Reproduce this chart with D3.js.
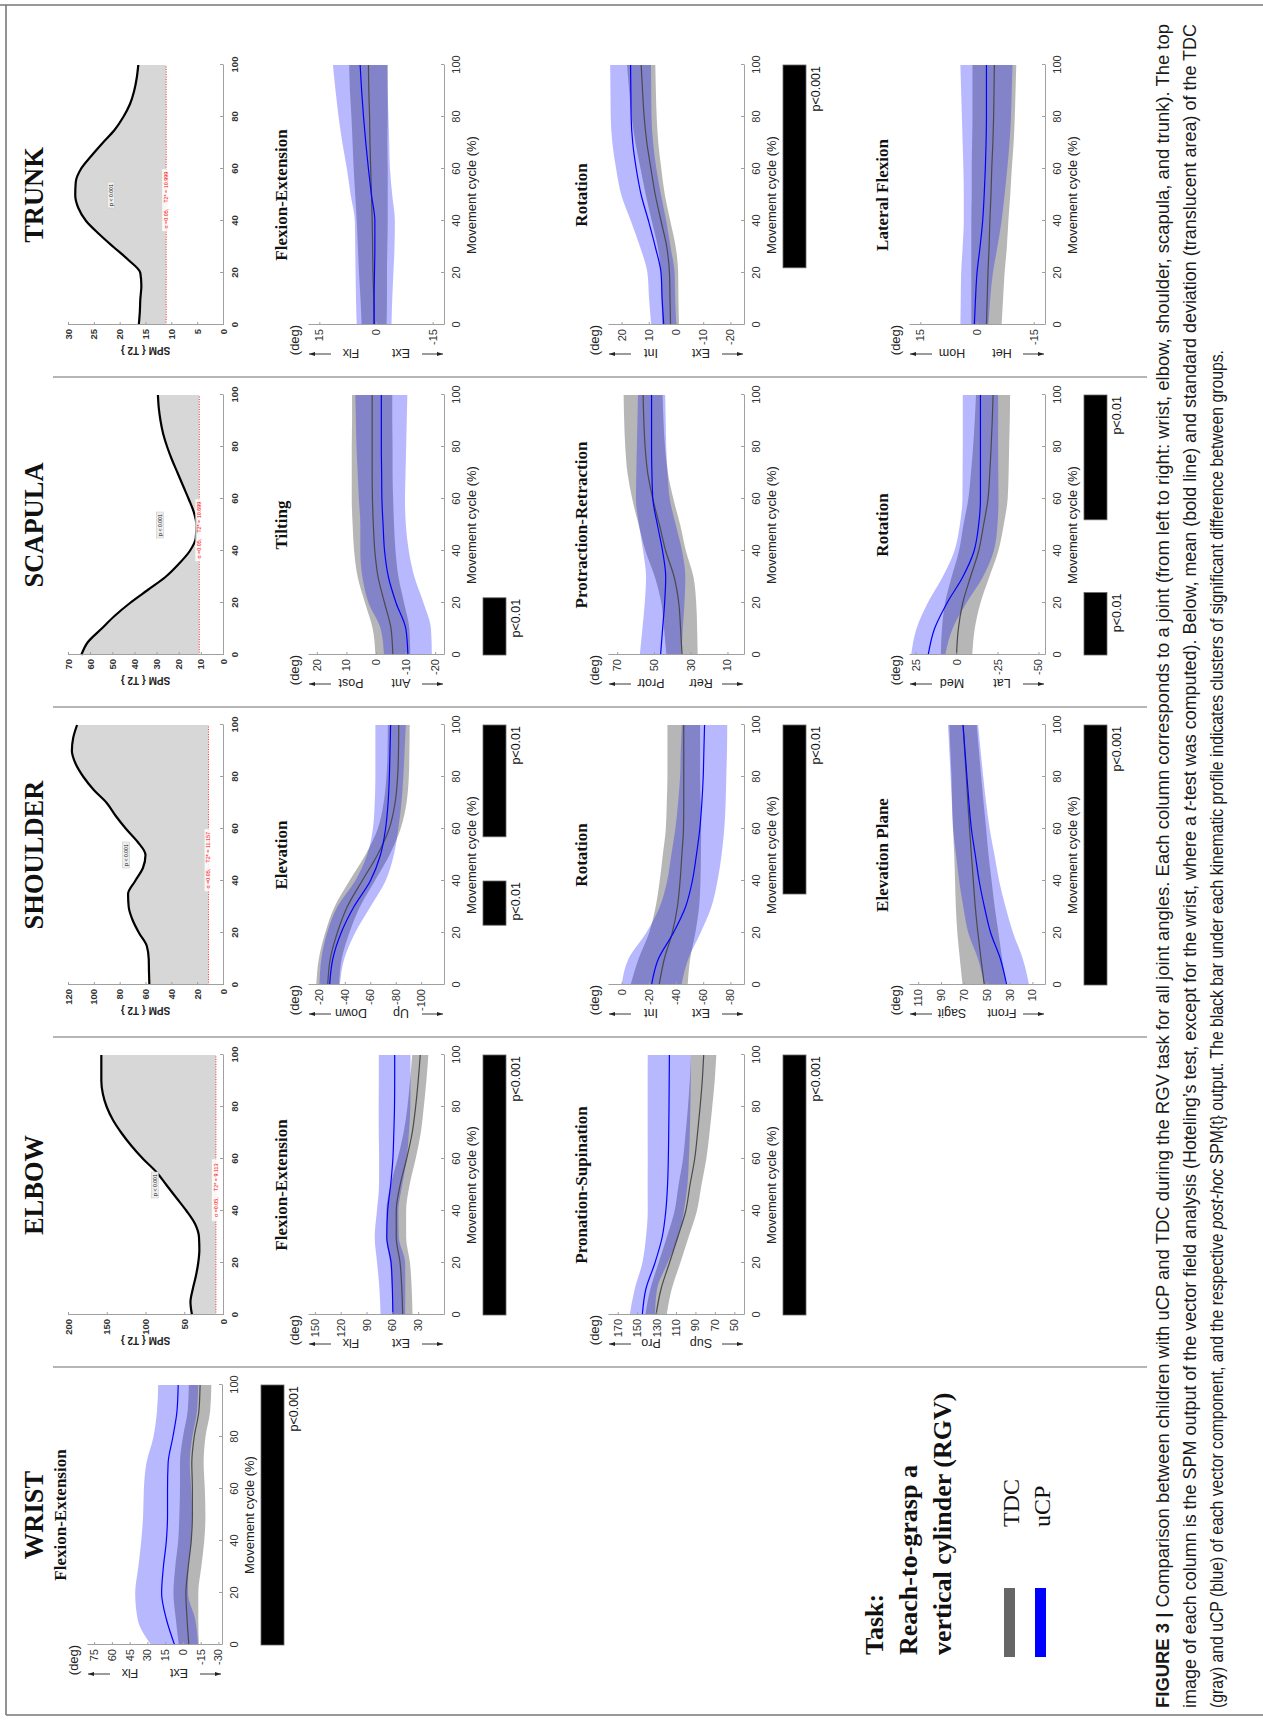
<!DOCTYPE html>
<html>
<head>
<meta charset="utf-8">
<script src="https://cdn.jsdelivr.net/npm/d3@7"></script>
<style>
  html, body { margin: 0; padding: 0; background: #fff; }
  svg { display: block; }
</style>
</head>
<body>
<svg id="fig" width="1263" height="1725"></svg>
<script>
// ---------- sampling grids ----------
const cyclePct = [0, 10, 20, 30, 40, 50, 60, 70, 80, 90, 100];
const spmPct = [0, 5, 10, 15, 20, 25, 30, 35, 40, 45, 50, 55, 60, 65, 70, 75, 80, 85, 90, 95, 100];
const xTicks = [0, 20, 40, 60, 80, 100];

const jointNames = ["WRIST", "ELBOW", "SHOULDER", "SCAPULA", "TRUNK"];

// ---------- SPM{T2} (Hotelling) curves ----------
const elbowSpm    = [40, 42, 39, 35, 32, 30.5, 31, 36, 47, 60, 73, 86, 103, 118, 131, 142, 150, 155, 157, 157, 157];
const shoulderSpm = [57, 57.3, 57.5, 59, 65, 70, 73, 73.5, 68, 62, 60, 66, 75, 83, 90, 100, 108, 114, 117, 116, 113];
const scapulaSpm  = [64, 61, 55, 49, 42, 34, 26, 20, 15, 12.3, 12, 13.2, 15.5, 18, 20.5, 23, 25.2, 27, 28.2, 29, 29.4];
const trunkSpm    = [16.3, 16.1, 16, 15.8, 16, 18.3, 21.2, 24, 26.5, 28, 28.6, 28.5, 27.5, 25.5, 23.3, 21, 19.3, 18, 17.2, 16.7, 16.4];
const spmThreshold = [9.113, 11.157, 10.699, 10.999];       // elbow, shoulder, scapula, trunk
const spmThresholdText = ["9.113", "11.157", "10.699", "10.999"];
const elbowSpmTicks = [0, 50, 100, 150, 200];
const shoulderSpmTicks = [0, 20, 40, 60, 80, 100, 120];
const scapulaSpmTicks = [0, 10, 20, 30, 40, 50, 60, 70];
const trunkSpmTicks = [0, 5, 10, 15, 20, 25, 30];
const spmPLabelAt = [[50, 88], [50, 75], [50, 28.5], [50, 21.7]];   // cycle %, SPM value

// ---------- kinematics: mean and SD per group (deg) ----------
// Wrist flexion-extension
const wristFE_ticks = [75, 60, 45, 30, 15, 0, -15, -30];
const wristFE_domain = [-33, 81];
const wristFE_tdcMean = [-5, -3.5, -2.5, -4.5, -7, -8, -8, -7.5, -9.5, -13.5, -14.5];
const wristFE_tdcSd   = [8.5, 9.5, 10.5, 11, 11, 11, 10.5, 10, 9.5, 9.5, 9.5];
const wristFE_ucpMean = [7, 14, 18, 16.5, 14, 13, 13, 12.5, 8.5, 5, 4];
const wristFE_ucpSd   = [19.8, 24.3, 22.3, 21.2, 21.2, 20.6, 20, 18.3, 16.4, 16.9, 16.9];
const wristFE_bars = [[0, 100]];

// Elbow flexion-extension
const elbowFE_ticks = [150, 120, 90, 60, 30];
const elbowFE_domain = [0, 158];
const elbowFE_tdcMean = [48, 49, 51, 55.5, 55.5, 51, 43.5, 37, 33, 30, 27.6];
const elbowFE_tdcSd   = [11.4, 11.5, 11.5, 11.5, 11.5, 11, 10.5, 10, 9.5, 9.5, 9.4];
const elbowFE_ucpMean = [59.4, 60, 61.4, 66.5, 65.5, 62, 59.4, 58.3, 57.5, 57.3, 57.3];
const elbowFE_ucpSd   = [14.3, 15, 16.3, 14, 12.5, 13.5, 16, 17.5, 18.4, 18.4, 18.4];
const elbowFE_bars = [[0, 100]];

// Elbow pronation-supination
const elbowPS_ticks = [170, 150, 130, 110, 90, 70, 50];
const elbowPS_domain = [40, 180];
const elbowPS_tdcMean = [130.6, 125.4, 116.8, 108.2, 100, 95.6, 90.8, 87.8, 85.2, 83, 81.5];
const elbowPS_tdcSd   = [11, 11, 11.2, 11.2, 11.5, 11.8, 12, 12.3, 12.5, 12.8, 13];
const elbowPS_ucpMean = [144.7, 141, 131.7, 124.2, 120.5, 118.7, 117.9, 117.5, 117.2, 117, 116.8];
const elbowPS_ucpSd   = [13, 11.5, 13, 16.7, 18.6, 20.5, 21.2, 21.7, 22, 22.2, 22.3];
const elbowPS_bars = [[0, 100]];

// Shoulder elevation
const shElev_ticks = [-20, -40, -60, -80, -100];
const shElev_domain = [-118, -11];
const shElev_tdcMean = [-26.5, -28.5, -34, -41.8, -53.5, -65.6, -74.8, -79.5, -81.5, -82.2, -82.4];
const shElev_tdcSd   = [9, 9, 9.5, 10, 10, 9.5, 9, 9, 8.8, 8.6, 8.6];
const shElev_ucpMean = [-28, -30.5, -37, -47, -60, -68, -72, -74, -75, -75.5, -76];
const shElev_ucpSd   = [8, 9, 11, 13, 12, 10.5, 10, 10.5, 11, 11.5, 12];
const shElev_bars = [[23, 40], [57, 100]];

// Shoulder rotation
const shRot_ticks = [0, -20, -40, -60, -80];
const shRot_domain = [-90, 10];
const shRot_tdcMean = [-27.6, -31.4, -37.2, -41, -43, -44.3, -45.5, -45.7, -45.7, -45.7, -45.7];
const shRot_tdcSd   = [21, 19, 17, 16, 15, 14, 13, 12.5, 12, 12, 12];
const shRot_ucpMean = [-22, -27, -38, -47, -52, -55, -57.5, -59, -60, -60.5, -61];
const shRot_ucpSd   = [22, 22, 20, 19, 18.5, 18.5, 18, 17.5, 17, 17, 16.7];
const shRot_bars = [[35, 100]];

// Shoulder elevation plane
const shPlane_ticks = [110, 90, 70, 50, 30, 10];
const shPlane_domain = [-1, 118];
const shPlane_tdcMean = [52.1, 55, 57.7, 60, 61.7, 63.4, 65, 66.5, 67.8, 69.3, 70.7];
const shPlane_tdcSd   = [19, 18.5, 18, 17, 16, 15, 14.5, 13.8, 13, 12.5, 12];
const shPlane_ucpMean = [32.5, 38, 46.5, 52, 56.6, 60, 63.4, 65.5, 67.3, 69, 70.7];
const shPlane_ucpSd   = [19.6, 19.6, 19.6, 18.5, 17.5, 16.8, 16, 15, 14.3, 13.7, 13.2];
const shPlane_bars = [[0, 100]];

// Scapula tilting
const scTilt_ticks = [20, 10, 0, -10, -20];
const scTilt_domain = [-23, 23];
const scTilt_tdcMean = [-5.7, -5.1, -2.9, -0.7, 0.4, 0.9, 1.2, 1.3, 1.3, 1.3, 1.3];
const scTilt_tdcSd   = [5.9, 6.2, 6.6, 6.9, 7, 7, 7, 6.9, 6.9, 6.8, 6.8];
const scTilt_ucpMean = [-10.8, -10.1, -6.8, -4.2, -2.9, -2.4, -2, -1.9, -1.8, -1.8, -1.8];
const scTilt_ucpSd   = [8.1, 8.5, 9.3, 8.8, 8.2, 7.7, 7.8, 8.1, 8.4, 8.6, 8.8];
const scTilt_bars = [[0, 22]];

// Scapula protraction-retraction
const scProt_ticks = [70, 50, 30, 10];
const scProt_domain = [1, 75];
const scProt_tdcMean = [34.7, 35.5, 36.5, 39, 43.6, 47, 50.6, 53.4, 54.8, 55.5, 55.9];
const scProt_tdcSd   = [8.5, 9, 9.5, 10.5, 11, 11.3, 11.2, 11, 10.8, 10.7, 10.6];
const scProt_ucpMean = [46.4, 45.3, 44.2, 43.6, 45.3, 48.1, 50.6, 51.1, 51.3, 51.3, 51.3];
const scProt_ucpSd   = [11.3, 11, 10.8, 10.7, 10.6, 10, 9.2, 8.5, 8, 7.7, 7.4];
const scProt_bars = [];

// Scapula rotation
const scRot_ticks = [25, 0, -25, -50];
const scRot_domain = [-54, 29];
const scRot_tdcMean = [0, -1.1, -3.8, -8.5, -13.5, -16.5, -19.2, -20.3, -21.1, -21.8, -22.3];
const scRot_tdcSd   = [9.6, 10, 10.8, 11.5, 12, 12.3, 12, 11.5, 11, 10.7, 10.4];
const scRot_ucpMean = [17.3, 13.5, 5.8, -3.8, -10.7, -13.5, -14.6, -14.6, -14.6, -14.6, -14.6];
const scRot_ucpSd   = [10.4, 11, 11.8, 12.3, 12, 11.5, 11, 10.9, 10.8, 10.8, 10.8];
const scRot_bars = [[0, 24], [52, 100]];

// Trunk flexion-extension
const trFE_ticks = [15, 0, -15];
const trFE_domain = [-18, 18];
const trFE_tdcMean = [0.5, 0.6, 0.8, 0.9, 1, 1.2, 1.4, 1.6, 1.7, 1.9, 2];
const trFE_tdcSd   = [3.3, 3.5, 3.7, 3.9, 4.1, 4.3, 4.5, 4.6, 4.8, 5, 5.1];
const trFE_ucpMean = [0.5, 0.5, 0.4, 0.3, 0.3, 1.2, 2, 2.7, 3.3, 3.8, 4.2];
const trFE_ucpSd   = [4.6, 4.8, 5, 5.2, 5.3, 5.5, 5.7, 6.2, 6.6, 6.9, 7.2];
const trFE_bars = [];

// Trunk rotation
const trRot_ticks = [20, 10, 0, -10, -20];
const trRot_domain = [-25, 25];
const trRot_tdcMean = [2, 2.2, 2.4, 3.4, 5.5, 7.6, 9.2, 10.7, 11.7, 12.3, 12.8];
const trRot_tdcSd   = [3.1, 3.1, 3.2, 3.3, 3.4, 3.5, 3.8, 4.2, 4.6, 4.9, 5.2];
const trRot_ucpMean = [4.5, 5.1, 5.5, 7.6, 10.1, 12.8, 14.6, 15.9, 16.5, 16.6, 16.7];
const trRot_ucpSd   = [4.6, 4.8, 5, 5.6, 6.5, 7.3, 7.4, 7.5, 7.5, 7.5, 7.5];
const trRot_bars = [[22, 100]];

// Trunk lateral flexion
const trLF_ticks = [15, 0, -15];
const trLF_domain = [-18, 18];
const trLF_tdcMean = [-2.5, -2.7, -2.9, -3.2, -3.4, -3.7, -3.9, -4.2, -4.4, -4.5, -4.6];
const trLF_tdcSd   = [4, 4.2, 4.4, 4.7, 4.9, 5.1, 5.3, 5.5, 5.6, 5.7, 5.8];
const trLF_ucpMean = [0.7, 0.4, 0, -0.8, -1.5, -1.9, -2.2, -2.4, -2.5, -2.5, -2.5];
const trLF_ucpSd   = [3.7, 3.9, 4.2, 4.6, 5, 5.4, 5.8, 6.2, 6.5, 6.7, 6.9];
const trLF_bars = [];

const legendGroups = ["TDC", "uCP"];
const taskLines = ["Task:", "Reach-to-grasp a", "vertical cylinder (RGV)"];

// ---------- layout (figure drawn landscape, then turned a quarter) ----------
const SERIF = '"Liberation Serif","Times New Roman",Times,serif';
const SANS = '"Liberation Sans",Arial,Helvetica,sans-serif';
const NARROW = '"Liberation Sans Narrow","Arial Narrow","Liberation Sans",Arial,sans-serif';

const colLeft = [80, 410, 740, 1070, 1400];
const plotW = 260;
const rowTop = {1: 87, 2: 308, 3: 608, 4: 909};
const rowBottom = {1: 222, 2: 444, 3: 744, 4: 1045};
const spmTop = 68, spmBottom = 223;

const TDC_FILL = "#9a9a9a", UCP_FILL = "#0000ff";
const plainNumber = d => String(d);   // hyphen-minus, as in the printed axes

const svg = d3.select("#fig");
svg.append("rect").attr("width", 1263).attr("height", 1725).attr("fill", "#fff");

const defs = svg.append("defs");
defs.append("marker").attr("id", "arrowHead")
  .attr("viewBox", "0 0 10 10").attr("refX", 10).attr("refY", 5)
  .attr("markerWidth", 6).attr("markerHeight", 6)
  .attr("markerUnits", "userSpaceOnUse").attr("orient", "auto")
  .append("path").attr("d", "M0,1.5L10,5L0,8.5Z").attr("fill", "#222");

// outer frame
const frame = svg.append("g").attr("stroke", "#777").attr("stroke-width", 1.6);
frame.append("line").attr("x1", 0).attr("x2", 1263).attr("y1", 5).attr("y2", 5);
frame.append("line").attr("x1", 6).attr("x2", 1263).attr("y1", 1715).attr("y2", 1715);
frame.append("line").attr("x1", 6).attr("x2", 6).attr("y1", 5).attr("y2", 1715);

const fig = svg.append("g").attr("transform", "translate(0,1725) rotate(-90)");

// column separators
colLeft.slice(1).forEach(c => {
  fig.append("line").attr("x1", c - 52).attr("x2", c - 52).attr("y1", 53).attr("y2", 1147)
    .attr("stroke", "#9d9d9d").attr("stroke-width", 1.6);
});

// joint titles
jointNames.forEach((name, i) => {
  fig.append("text").attr("x", colLeft[i] + plotW / 2).attr("y", 43)
    .attr("text-anchor", "middle").attr("font-family", SERIF).attr("font-weight", "bold")
    .attr("font-size", 26.5).attr("fill", "#111").text(name);
});

function styleAxis(sel, fontSize, weight) {
  sel.select(".domain").attr("stroke", "#a0a0a0").attr("stroke-width", 1);
  sel.selectAll(".tick line").attr("stroke", "#a0a0a0");
  sel.selectAll(".tick text").attr("font-family", SANS).attr("font-size", fontSize)
    .attr("font-weight", weight).attr("fill", "#333");
}

function drawKinematic(p) {
  const x0 = colLeft[p.col], top = rowTop[p.row], bottom = rowBottom[p.row];
  const cx = x0 + plotW / 2;
  const x = d3.scaleLinear().domain([0, 100]).range([x0, x0 + plotW]);
  const y = d3.scaleLinear().domain(p.domain).range([bottom, top]);
  const g = fig.append("g");

  const band = (m, s) => d3.area().curve(d3.curveMonotoneX)
    .x((d, i) => x(cyclePct[i])).y0((d, i) => y(m[i] - s[i])).y1((d, i) => y(m[i] + s[i]));
  const mean = m => d3.line().curve(d3.curveMonotoneX)
    .x((d, i) => x(cyclePct[i])).y((d, i) => y(m[i]));

  g.append("path").attr("d", band(p.tdcM, p.tdcS)(p.tdcM)).attr("fill", TDC_FILL).attr("fill-opacity", 0.72);
  g.append("path").attr("d", band(p.ucpM, p.ucpS)(p.ucpM)).attr("fill", UCP_FILL).attr("fill-opacity", 0.28);
  g.append("path").attr("d", mean(p.tdcM)(p.tdcM)).attr("fill", "none").attr("stroke", "#4a4a4a").attr("stroke-width", 1.2);
  g.append("path").attr("d", mean(p.ucpM)(p.ucpM)).attr("fill", "none").attr("stroke", "#0000ff").attr("stroke-width", 1.2);

  const xa = g.append("g").attr("transform", `translate(0,${bottom})`)
    .call(d3.axisBottom(x).tickValues(xTicks).tickFormat(plainNumber).tickSizeInner(-3).tickSizeOuter(0).tickPadding(8));
  styleAxis(xa, 11, "normal");
  const ya = g.append("g").attr("transform", `translate(${x0},0)`)
    .call(d3.axisLeft(y).tickValues(p.ticks).tickFormat(plainNumber).tickSizeInner(-3).tickSizeOuter(0).tickPadding(4));
  styleAxis(ya, 11, "normal");

  g.append("text").attr("x", cx).attr("y", bottom + 32).attr("text-anchor", "middle")
    .attr("font-family", SANS).attr("font-size", 13).attr("fill", "#222").text("Movement cycle (%)");

  g.append("text").attr("x", cx).attr("y", top - 21).attr("text-anchor", "middle")
    .attr("font-family", SERIF).attr("font-weight", "bold").attr("font-size", 17).attr("fill", "#111").text(p.name);

  // unit and direction labels
  g.append("text").attr("x", x0 - 15).attr("y", top - 9).attr("text-anchor", "middle")
    .attr("font-family", SANS).attr("font-size", 13).attr("fill", "#222").text("(deg)");
  const ax = x0 - 29;
  g.append("line").attr("x1", ax).attr("x2", ax).attr("y1", top + 23).attr("y2", top + 1)
    .attr("stroke", "#222").attr("stroke-width", 0.9).attr("marker-end", "url(#arrowHead)");
  g.append("line").attr("x1", ax).attr("x2", ax).attr("y1", bottom - 22).attr("y2", bottom - 1)
    .attr("stroke", "#222").attr("stroke-width", 0.9).attr("marker-end", "url(#arrowHead)");
  [[p.up, top + 43], [p.down, bottom - 43]].forEach(([t, v]) => {
    g.append("text").attr("transform", `translate(${x0 - 24},${v}) rotate(-90)`)
      .attr("text-anchor", "middle").attr("font-family", SANS).attr("font-size", 12.5)
      .attr("fill", "#222").text(t);
  });

  // clusters of significant difference
  p.bars.forEach(([s, e]) => {
    g.append("rect").attr("x", x(s)).attr("y", bottom + 39).attr("width", x(e) - x(s)).attr("height", 23)
      .attr("fill", "#000").attr("stroke", "#666").attr("stroke-width", 0.8);
    g.append("text").attr("x", x(e) - 1).attr("y", bottom + 39 + 23 + 14).attr("text-anchor", "end")
      .attr("font-family", SANS).attr("font-size", 12.5).attr("fill", "#111").text(p.pText);
  });
}

function drawSpm(col, values, threshold, thrText, ticks, pAt) {
  const x0 = colLeft[col];
  const x = d3.scaleLinear().domain([0, 100]).range([x0, x0 + plotW]);
  const y = d3.scaleLinear().domain([0, d3.max(ticks)]).range([spmBottom, spmTop]);
  const g = fig.append("g");

  const fill = d3.area().curve(d3.curveMonotoneX)
    .x((d, i) => x(spmPct[i])).y0(y(threshold)).y1(d => y(Math.max(d, threshold)));
  g.append("path").attr("d", fill(values)).attr("fill", "#d7d7d7");
  g.append("line").attr("x1", x(0)).attr("x2", x(100)).attr("y1", y(threshold)).attr("y2", y(threshold))
    .attr("stroke", "#ff2020").attr("stroke-width", 0.9).attr("stroke-dasharray", "1,1.5");
  const curve = d3.line().curve(d3.curveMonotoneX).x((d, i) => x(spmPct[i])).y(d => y(d));
  g.append("path").attr("d", curve(values)).attr("fill", "none").attr("stroke", "#000").attr("stroke-width", 2.2);

  const xa = g.append("g").attr("transform", `translate(0,${spmBottom})`)
    .call(d3.axisBottom(x).tickValues(xTicks).tickFormat(plainNumber).tickSizeInner(-3).tickSizeOuter(0).tickPadding(8));
  styleAxis(xa, 9.5, "bold");
  const ya = g.append("g").attr("transform", `translate(${x0},0)`)
    .call(d3.axisLeft(y).tickValues(ticks).tickFormat(plainNumber).tickSizeInner(-3).tickSizeOuter(0).tickPadding(4));
  styleAxis(ya, 9.5, "bold");

  g.append("text").attr("transform", `translate(${x0 - 22},${(spmTop + spmBottom) / 2}) rotate(-90)`)
    .attr("text-anchor", "middle").attr("font-family", SANS).attr("font-size", 10).attr("font-weight", "bold")
    .attr("fill", "#222").text("SPM { T2 }");

  // cluster p value
  const pl = g.append("g").attr("transform", `translate(${x(pAt[0])},${y(pAt[1])})`);
  pl.append("rect").attr("x", -13).attr("y", -3.6).attr("width", 26).attr("height", 7.2)
    .attr("fill", "#eeeeee").attr("stroke", "#c4c4c4").attr("stroke-width", 0.5);
  pl.append("text").attr("text-anchor", "middle").attr("dy", "0.35em")
    .attr("font-family", SANS).attr("font-size", 5.2).attr("fill", "#111").text("p < 0.001");

  // critical threshold
  const tl = g.append("g").attr("transform", `translate(${x(48)},${y(threshold)})`);
  tl.append("rect").attr("x", -31).attr("y", -4).attr("width", 62).attr("height", 8)
    .attr("fill", "#ffffff").attr("fill-opacity", 0.85);
  tl.append("text").attr("text-anchor", "middle").attr("dy", "0.35em")
    .attr("font-family", SANS).attr("font-size", 5.4).attr("fill", "#ff0000")
    .attr("xml:space", "preserve").text(`\u03b1 =0.05,    T2* = ${thrText}`);
}

// ---------- panels ----------
const kinPanels = [
  {col: 0, row: 1, name: "Flexion-Extension", up: "Flx", down: "Ext", ticks: wristFE_ticks, domain: wristFE_domain,
   tdcM: wristFE_tdcMean, tdcS: wristFE_tdcSd, ucpM: wristFE_ucpMean, ucpS: wristFE_ucpSd, bars: wristFE_bars, pText: "p<0.001"},
  {col: 1, row: 2, name: "Flexion-Extension", up: "Flx", down: "Ext", ticks: elbowFE_ticks, domain: elbowFE_domain,
   tdcM: elbowFE_tdcMean, tdcS: elbowFE_tdcSd, ucpM: elbowFE_ucpMean, ucpS: elbowFE_ucpSd, bars: elbowFE_bars, pText: "p<0.001"},
  {col: 1, row: 3, name: "Pronation-Supination", up: "Pro", down: "Sup", ticks: elbowPS_ticks, domain: elbowPS_domain,
   tdcM: elbowPS_tdcMean, tdcS: elbowPS_tdcSd, ucpM: elbowPS_ucpMean, ucpS: elbowPS_ucpSd, bars: elbowPS_bars, pText: "p<0.001"},
  {col: 2, row: 2, name: "Elevation", up: "Down", down: "Up", ticks: shElev_ticks, domain: shElev_domain,
   tdcM: shElev_tdcMean, tdcS: shElev_tdcSd, ucpM: shElev_ucpMean, ucpS: shElev_ucpSd, bars: shElev_bars, pText: "p<0.01"},
  {col: 2, row: 3, name: "Rotation", up: "Int", down: "Ext", ticks: shRot_ticks, domain: shRot_domain,
   tdcM: shRot_tdcMean, tdcS: shRot_tdcSd, ucpM: shRot_ucpMean, ucpS: shRot_ucpSd, bars: shRot_bars, pText: "p<0.01"},
  {col: 2, row: 4, name: "Elevation Plane", up: "Sagit", down: "Front", ticks: shPlane_ticks, domain: shPlane_domain,
   tdcM: shPlane_tdcMean, tdcS: shPlane_tdcSd, ucpM: shPlane_ucpMean, ucpS: shPlane_ucpSd, bars: shPlane_bars, pText: "p<0.001"},
  {col: 3, row: 2, name: "Tilting", up: "Post", down: "Ant", ticks: scTilt_ticks, domain: scTilt_domain,
   tdcM: scTilt_tdcMean, tdcS: scTilt_tdcSd, ucpM: scTilt_ucpMean, ucpS: scTilt_ucpSd, bars: scTilt_bars, pText: "p<0.01"},
  {col: 3, row: 3, name: "Protraction-Retraction", up: "Protr", down: "Retr", ticks: scProt_ticks, domain: scProt_domain,
   tdcM: scProt_tdcMean, tdcS: scProt_tdcSd, ucpM: scProt_ucpMean, ucpS: scProt_ucpSd, bars: scProt_bars, pText: ""},
  {col: 3, row: 4, name: "Rotation", up: "Med", down: "Lat", ticks: scRot_ticks, domain: scRot_domain,
   tdcM: scRot_tdcMean, tdcS: scRot_tdcSd, ucpM: scRot_ucpMean, ucpS: scRot_ucpSd, bars: scRot_bars, pText: "p<0.01"},
  {col: 4, row: 2, name: "Flexion-Extension", up: "Flx", down: "Ext", ticks: trFE_ticks, domain: trFE_domain,
   tdcM: trFE_tdcMean, tdcS: trFE_tdcSd, ucpM: trFE_ucpMean, ucpS: trFE_ucpSd, bars: trFE_bars, pText: ""},
  {col: 4, row: 3, name: "Rotation", up: "Int", down: "Ext", ticks: trRot_ticks, domain: trRot_domain,
   tdcM: trRot_tdcMean, tdcS: trRot_tdcSd, ucpM: trRot_ucpMean, ucpS: trRot_ucpSd, bars: trRot_bars, pText: "p<0.001"},
  {col: 4, row: 4, name: "Lateral Flexion", up: "Hom", down: "Het", ticks: trLF_ticks, domain: trLF_domain,
   tdcM: trLF_tdcMean, tdcS: trLF_tdcSd, ucpM: trLF_ucpMean, ucpS: trLF_ucpSd, bars: trLF_bars, pText: ""}
];
kinPanels.forEach(drawKinematic);

drawSpm(1, elbowSpm, spmThreshold[0], spmThresholdText[0], elbowSpmTicks, spmPLabelAt[0]);
drawSpm(2, shoulderSpm, spmThreshold[1], spmThresholdText[1], shoulderSpmTicks, spmPLabelAt[1]);
drawSpm(3, scapulaSpm, spmThreshold[2], spmThresholdText[2], scapulaSpmTicks, spmPLabelAt[2]);
drawSpm(4, trunkSpm, spmThreshold[3], spmThresholdText[3], trunkSpmTicks, spmPLabelAt[3]);

// ---------- task description and legend ----------
taskLines.forEach((t, i) => {
  fig.append("text").attr("x", 70).attr("y", 883 + i * 34)
    .attr("font-family", SERIF).attr("font-weight", "bold").attr("font-size", 26).attr("fill", "#111").text(t);
});
legendGroups.forEach((name, i) => {
  fig.append("rect").attr("x", 68).attr("y", 1004 + i * 31).attr("width", 69).attr("height", 11)
    .attr("fill", i === 0 ? "#666666" : "#0000ff");
  fig.append("text").attr("x", 198).attr("y", 1019 + i * 31)
    .attr("font-family", SERIF).attr("font-size", 24).attr("fill", "#111").text(name);
});

// ---------- caption (condensed by fitting each line to its measure) ----------
const captionLines = [
  {v: 1169, len: 1684, parts: [["FIGURE 3 | ", "bold", "normal"],
    ["Comparison between children with uCP and TDC during the RGV task for all joint angles. Each column corresponds to a joint (from left to right: wrist, elbow, shoulder, scapula, and trunk). The top", "normal", "normal"]]},
  {v: 1196, len: 1684, parts: [["image of each column is the SPM output of the vector field analysis (Hoteling\u2019s test, except for the wrist, where a ", "normal", "normal"],
    ["t", "normal", "italic"],
    ["-test was computed). Below, mean (bold line) and standard deviation (translucent area) of the TDC", "normal", "normal"]]},
  {v: 1223, len: 1358, parts: [["(gray) and uCP (blue) of each vector component, and the respective ", "normal", "normal"],
    ["post-hoc", "normal", "italic"],
    [" SPM{t} output. The black bar under each kinematic profile indicates clusters of significant difference between groups.", "normal", "normal"]]}
];
captionLines.forEach(line => {
  const t = fig.append("text").attr("x", 17).attr("y", line.v)
    .attr("font-family", NARROW).attr("font-size", 18).attr("fill", "#1a1a1a")
    .attr("textLength", line.len).attr("lengthAdjust", "spacingAndGlyphs");
  line.parts.forEach(([s, w, st]) => {
    t.append("tspan").attr("font-weight", w).attr("font-style", st).text(s);
  });
});
</script>
</body>
</html>
